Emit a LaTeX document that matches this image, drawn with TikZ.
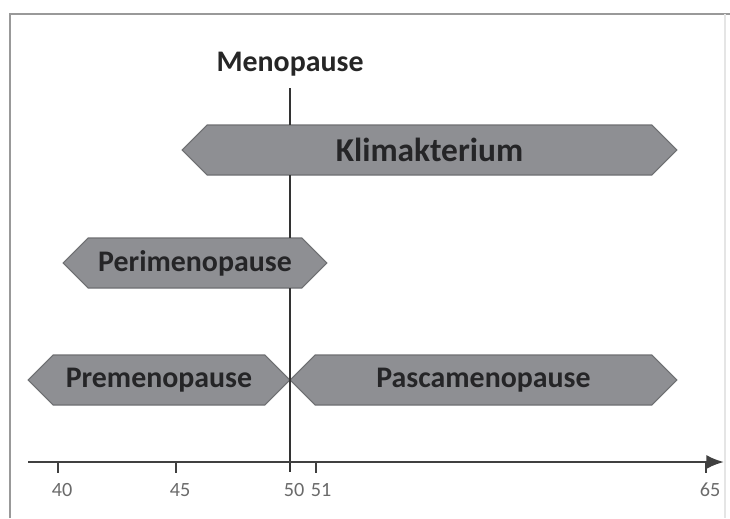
\documentclass[tikz,border=0pt]{standalone}
\usepackage{fontspec}
\setmainfont{Carlito}
\usetikzlibrary{arrows.meta,shapes.symbols,calc}

\definecolor{phasefill}{HTML}{8E8F93}
\definecolor{phaseedge}{HTML}{6E6F72}
\definecolor{phasetext}{HTML}{252527}
\definecolor{ticktext}{HTML}{6A6A6A}

\begin{document}
\begin{tikzpicture}[x=0.02cm,y=-0.02cm,
  frame/.style={draw=black!40,line width=0.9pt},
  line/.style={draw=black!80,line width=0.9pt},
  axis/.style={draw=black!75,line width=1.4pt},
  phase/.style={signal,signal to=west and east,signal pointer angle=90,
    draw=phaseedge,fill=phasefill,line width=0.6pt,minimum height=1cm,
    inner sep=0pt,outer sep=0pt,text=phasetext,
    font=\bfseries\fontsize{17}{20}\selectfont},
  title/.style={font=\bfseries\fontsize{17}{20}\selectfont,text=black!85},
  ticklab/.style={font=\fontsize{11.5}{13}\selectfont,text=ticktext},
]
\useasboundingbox (0,0) rectangle (730,518);

\draw[frame] (10,518) -- (10,14) -- (730,14);
\draw[draw=black!10,line width=0.6pt] (725,14) -- (725,518);

\node[title] (meno) at (290,64) {Menopause};
\coordinate (t50) at (290,472);

\node[phase,minimum width=9.9cm,font=\bfseries\fontsize{19}{22}\selectfont] (klima) at (429.5,150) {Klimakterium};
\node[phase,minimum width=5.28cm] (peri) at (195,263) {Perimenopause};
\node[phase,minimum width=5.24cm] (pre) at (159,380) {Premenopause};
\node[phase,minimum width=7.74cm] (post) at (483.5,380) {Pascamenopause};

\draw[line] (meno.south) ++(0,6) -- ($(meno |- klima.center)+(0,-25)$);
\draw[line] ($(meno |- klima.center)+(0,25)$) -- ($(meno |- peri.center)+(0,-25)$);
\draw[line] ($(meno |- peri.center)+(0,25)$) -- (t50);

\coordinate (ax0) at (28,462);
\coordinate (ax1) at (724,462);
\draw[axis,-{Latex[length=10pt,width=8pt]}] (ax0) -- (ax1);
\foreach \x/\yr in {58/40,176/45,316/51,706/65}
  \draw[axis,line width=1pt] (\x,462) -- (\x,473);
\foreach \x/\yr in {62/40,180/45,294/50,321/51,710/65}
  \node[ticklab] (yr\yr) at (\x,490) {\yr};
\end{tikzpicture}
\end{document}
